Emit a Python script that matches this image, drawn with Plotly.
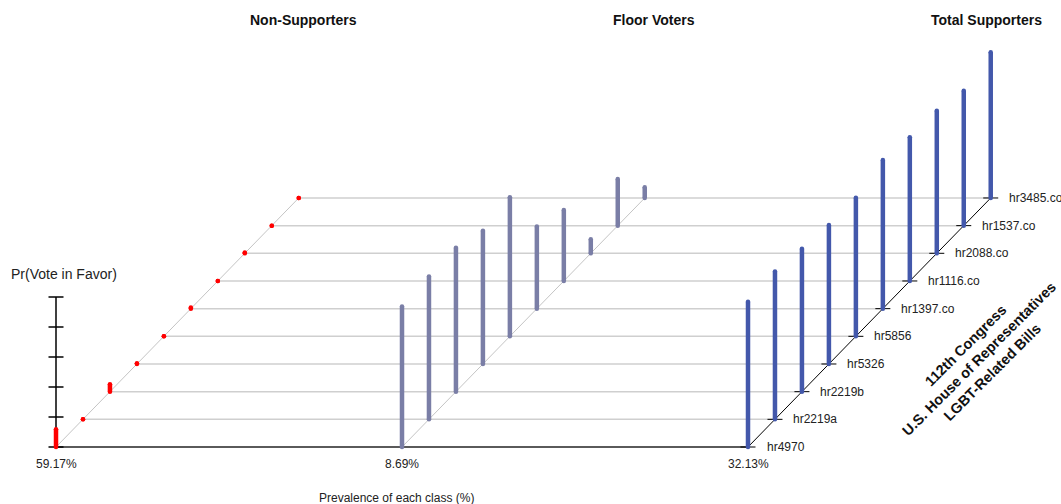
import plotly.graph_objects as go

# ---- data -------------------------------------------------------------
bills = ["hr4970", "hr2219a", "hr2219b", "hr5326", "hr5856",
         "hr1397.co", "hr1116.co", "hr2088.co", "hr1537.co", "hr3485.co"]
class_names = ["Non-Supporters", "Floor Voters", "Total Supporters"]
class_prevalence = ["59.17%", "8.69%", "32.13%"]

non_supporters = [0.118, 0.0, 0.049, 0.005, 0.0, 0.007, 0.0, 0.005, 0.0, 0.0]
floor_voters = [0.936, 0.953, 0.960, 0.889, 0.927, 0.547, 0.473, 0.093, 0.311, 0.071]
total_supporters = [0.969, 0.985, 0.953, 0.927, 0.923, 0.991, 0.958, 0.951, 0.900, 0.971]

series = [non_supporters, floor_voters, total_supporters]
colors = ["#ff0000", "#7a7ea6", "#4358ab"]
prob_ticks = [0, 0.2, 0.4, 0.6, 0.8, 1.0]

# ---- oblique projection geometry --------------------------------------
W, H = 1061, 504
ORIGIN_PX = (56, 447)        # pixel position of panel 0, depth 0, Pr = 0
PANEL_PX = 346               # horizontal pixels between class panels
PROB_PX = 150                # vertical pixels for Pr = 1
DEPTH_PX = (26.97, 27.67)    # pixel shift per bill (depth step)

DX = DEPTH_PX[0] / PANEL_PX
DY = DEPTH_PX[1] / PROB_PX
x_range = [-ORIGIN_PX[0] / PANEL_PX, (W - ORIGIN_PX[0]) / PANEL_PX]
y_range = [-(H - ORIGIN_PX[1]) / PROB_PX, ORIGIN_PX[1] / PROB_PX]


def hx(px):
    return px / PANEL_PX


def vy(px):
    return px / PROB_PX


n = len(bills)
last = n - 1
n_panels = len(series)
FONT = "Arial, 'Liberation Sans', sans-serif"

fig = go.Figure()


def seg(xs, ys, color, width):
    fig.add_trace(go.Scatter(x=xs, y=ys, mode="lines",
                             line=dict(color=color, width=width),
                             hoverinfo="skip", showlegend=False))


# depth grid lines running across all panels
gx, gy = [], []
for i in range(1, n):
    gx += [i * DX, (n_panels - 1) + i * DX, None]
    gy += [i * DY, i * DY, None]
seg(gx, gy, "#cfcfcf", 1.5)

# diagonal depth axes in the first panels
dx_, dy_ = [], []
for k in range(n_panels - 1):
    dx_ += [k, k + last * DX, None]
    dy_ += [0, last * DY, None]
seg(dx_, dy_, "#c4c4c4", 1)

# floor line at depth 0
seg([0, n_panels - 1], [0, 0], "#5a5a5a", 2)

# black depth axis on the last panel
kl = n_panels - 1
seg([kl, kl + last * DX], [0, last * DY], "#000000", 1)

# bill tick marks on the last panel
tx, ty = [], []
for i in range(n):
    tx += [kl + i * DX - hx(7.5), kl + i * DX + hx(7.5), None]
    ty += [i * DY, i * DY, None]
seg(tx, ty, "#000000", 1)

# probability axis
seg([0, 0], [0, 1], "#000000", 1.5)
px_, py_ = [], []
for t in prob_ticks:
    px_ += [-hx(7.5), hx(7.5), None]
    py_ += [t, t, None]
seg(px_, py_, "#000000", 1.5)

# vertical bars, one per bill and class
for k, (vals, col) in enumerate(zip(series, colors)):
    xs, ys = [], []
    for i, v in enumerate(vals):
        base_x = k + i * DX
        base_y = i * DY
        xs += [base_x, base_x, None]
        ys += [base_y, base_y + v, None]
    fig.add_trace(go.Scatter(x=xs, y=ys, mode="lines+markers",
                             line=dict(color=col, width=4.5),
                             marker=dict(color=col, size=4.5, line=dict(width=0)),
                             hoverinfo="skip", showlegend=False))

annotations = []
# bill names along the last depth axis
for i, b in enumerate(bills):
    annotations.append(dict(x=kl + i * DX + hx(16.5), y=i * DY, xref="x", yref="y",
                            text=b, showarrow=False, xanchor="left", yanchor="middle",
                            font=dict(family=FONT, size=12, color="#222222")))
# class prevalence under each panel
for k, p in enumerate(class_prevalence):
    annotations.append(dict(x=k, y=-vy(16.5), xref="x", yref="y", text=p,
                            showarrow=False, xanchor="center", yanchor="middle",
                            font=dict(family=FONT, size=12, color="#222222")))
# class titles
title_px = [303.5, 653.5, 986]
for name, cx in zip(class_names, title_px):
    annotations.append(dict(x=cx / W, y=1 - 20.5 / H, xref="paper", yref="paper",
                            text="<b>%s</b>" % name, showarrow=False,
                            xanchor="center", yanchor="middle",
                            font=dict(family=FONT, size=14, color="#111111")))
annotations.append(dict(x=9 / W, y=1 - 274 / H, xref="paper", yref="paper",
                        text="Pr(Vote in Favor)", showarrow=False,
                        xanchor="left", yanchor="middle",
                        font=dict(family=FONT, size=14, color="#222222")))
annotations.append(dict(x=396.5 / W, y=1 - 498 / H, xref="paper", yref="paper",
                        text="Prevalence of each class (%)", showarrow=False,
                        xanchor="center", yanchor="middle",
                        font=dict(family=FONT, size=12, color="#222222")))
annotations.append(dict(x=979 / W, y=1 - 359 / H, xref="paper", yref="paper",
                        text="<b>112th Congress<br>U.S. House of Representatives<br>LGBT-Related Bills</b>",
                        showarrow=False, textangle=-45, align="center",
                        xanchor="center", yanchor="middle",
                        font=dict(family=FONT, size=14.5, color="#111111")))

fig.update_layout(
    width=W, height=H,
    margin=dict(l=0, r=0, t=0, b=0),
    paper_bgcolor="white", plot_bgcolor="white",
    xaxis=dict(range=x_range, visible=False, fixedrange=True),
    yaxis=dict(range=y_range, visible=False, fixedrange=True),
    annotations=annotations,
    showlegend=False,
)

fig.write_html("out.html")
